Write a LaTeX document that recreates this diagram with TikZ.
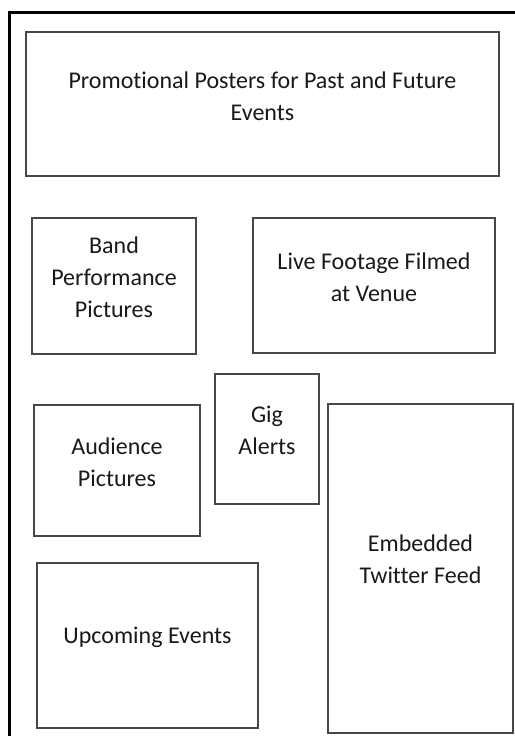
\documentclass[tikz,border=0pt]{standalone}
\usepackage{fontspec}
\setmainfont[Ligatures={NoCommon}]{Carlito}
\begin{document}
\begin{tikzpicture}[x=1pt,y=-1pt,
  box/.style={draw=black!72, line width=1.6pt, rectangle, inner sep=0pt},
  lbl/.style={align=center, text=black!90, font=\fontsize{24pt}{32pt}\selectfont, inner sep=0pt},
  frame/.style={draw=black, line width=3.5pt}]
\useasboundingbox (0,0) rectangle (514,736);
% outer page frame
\coordinate (fb) at (9.5,740);
\coordinate (ftl) at (9.5,12.5);
\coordinate (fr) at (516,12.5);
\draw[frame] (fb) -- (ftl) -- (fr);
% boxes
\node[box, minimum width=473pt, minimum height=144pt] (promo) at (262.5,104) {};
\node[box, minimum width=164pt, minimum height=136pt] (band) at (114,286) {};
\node[box, minimum width=242pt, minimum height=135pt] (live) at (374,285.5) {};
\node[box, minimum width=104pt, minimum height=130pt] (gig) at (267,439) {};
\node[box, minimum width=166pt, minimum height=131pt] (aud) at (117,470.5) {};
\node[box, minimum width=221pt, minimum height=165pt] (up) at (147.5,645.5) {};
\node[box, minimum width=185pt, minimum height=329pt] (emb) at (420.5,568.5) {};
% labels
\node[lbl] (promoT) at ([yshift=8pt]promo.center) {Promotional Posters for Past and Future\\Events};
\node[lbl] (bandT) at ([yshift=9pt]band.center) {Band\\Performance\\Pictures};
\node[lbl] (liveT) at ([yshift=8pt]live.center) {Live Footage Filmed\\at Venue};
\node[lbl] (gigT) at ([yshift=9pt]gig.center) {Gig\\Alerts};
\node[lbl] (audT) at ([yshift=8pt]aud.center) {Audience\\Pictures};
\node[lbl] (upT) at ([yshift=8pt]up.center) {Upcoming Events};
\node[lbl] (embT) at ([yshift=9pt]emb.center) {Embedded\\Twitter Feed};
\end{tikzpicture}
\end{document}
